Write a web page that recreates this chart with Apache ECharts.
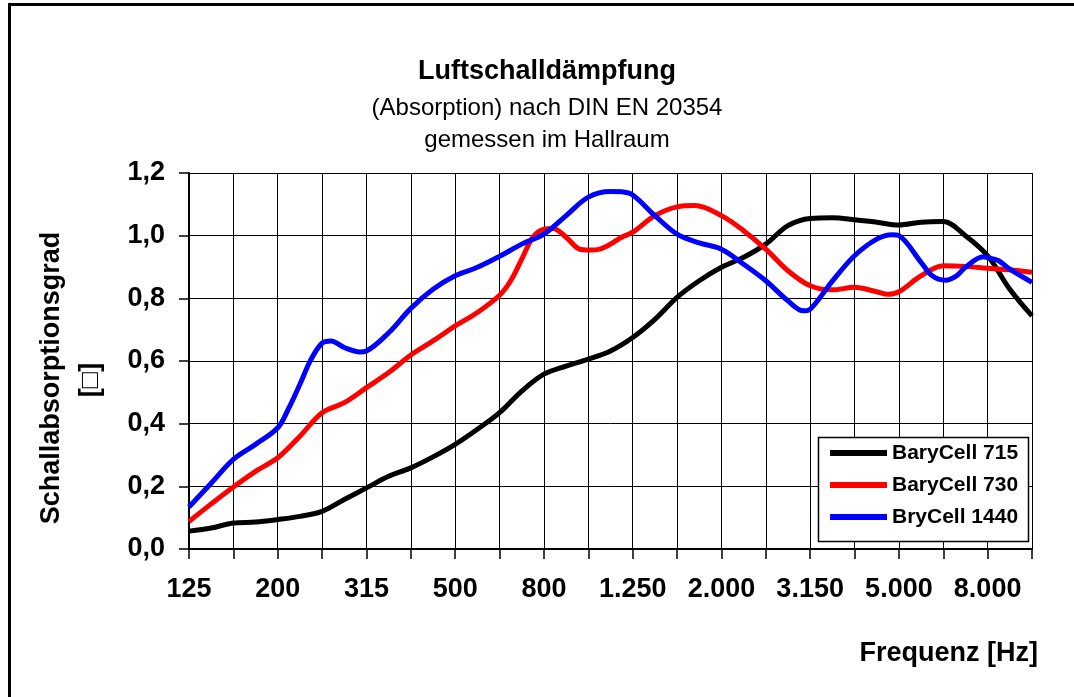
<!DOCTYPE html>
<html lang="de">
<head>
    <meta charset="UTF-8">
    <title>Luftschalldämpfung</title>
    <script src="https://cdn.jsdelivr.net/npm/echarts@6.0.0/dist/echarts.min.js"></script>
    <style>
        html, body { margin: 0; padding: 0; background: #fff; }
        #main { width: 1074px; height: 697px; }
    </style>
</head>
<body>
<div id="main"></div>

<script type="text/javascript">
    // Terzband-Mittenfrequenzen (x = Index im Array)
    var bands = ['125', '160', '200', '250', '315', '400', '500', '630', '800', '1.000',
                 '1.250', '1.600', '2.000', '2.500', '3.150', '4.000', '5.000', '6.300', '8.000', '10.000'];

    // BaryCell 715
    var bc715Pos = [0, 0.5, 1, 1.5, 2, 2.5, 3, 3.5, 4, 4.5, 5, 5.5, 6, 6.5, 7, 7.5, 8, 8.5, 9, 9.5,
                    10, 10.5, 11, 11.5, 12, 12.5, 13, 13.5, 14, 14.5, 15, 15.5, 16, 16.5, 17, 17.5, 18, 18.5, 19];
    var bc715Val = [0.057, 0.067, 0.083, 0.086, 0.094, 0.104, 0.12, 0.158, 0.195, 0.232, 0.259, 0.294, 0.334, 0.382, 0.435, 0.504, 0.558, 0.584, 0.606, 0.632,
                    0.675, 0.733, 0.803, 0.856, 0.899, 0.931, 0.973, 1.032, 1.055, 1.057, 1.051, 1.043, 1.034, 1.043, 1.045, 1.0, 0.936, 0.829, 0.744];

    // BaryCell 730
    var bc730Pos = [0, 0.5, 1, 1.5, 2, 2.5, 3, 3.5, 4, 4.5, 5, 5.5, 6, 6.5, 7,
                    7.25, 7.5, 7.75, 8, 8.2, 8.5, 8.8, 9, 9.25, 9.5, 9.75, 10, 10.5, 11, 11.4,
                    12, 12.5, 13, 13.5, 14, 14.5, 15, 15.5, 15.75, 16, 16.5, 17, 17.5, 18, 18.5, 19];
    var bc730Val = [0.088, 0.144, 0.198, 0.248, 0.291, 0.36, 0.435, 0.467, 0.515, 0.563, 0.619, 0.664, 0.712, 0.755, 0.81,
                    0.856, 0.925, 0.995, 1.021, 1.023, 0.995, 0.957, 0.954, 0.957, 0.973, 0.995, 1.011, 1.064, 1.092, 1.096,
                    1.064, 1.016, 0.957, 0.888, 0.84, 0.827, 0.835, 0.821, 0.813, 0.821, 0.872, 0.904, 0.902, 0.896, 0.891, 0.883];

    // BryCell 1440
    var bc1440Pos = [0, 0.5, 1, 1.5, 2, 2.25, 2.5, 2.75, 3, 3.2, 3.5, 3.85, 4, 4.5, 5, 5.5, 6, 6.5, 7, 7.5,
                     8, 8.5, 9, 9.5, 9.75, 10, 10.5, 11, 11.5, 12, 12.5, 13, 13.5, 13.85, 14, 14.5, 15, 15.5, 15.85, 16,
                     16.5, 16.75, 17.05, 17.3, 17.5, 17.9, 18, 18.25, 18.5, 19];
    var bc1440Val = [0.134, 0.21, 0.286, 0.334, 0.387, 0.45, 0.526, 0.605, 0.657, 0.664, 0.643, 0.629, 0.632, 0.69, 0.768, 0.829, 0.872, 0.899, 0.934, 0.973,
                     1.005, 1.064, 1.123, 1.141, 1.14, 1.13, 1.064, 1.005, 0.977, 0.957, 0.909, 0.856, 0.792, 0.76, 0.765, 0.855, 0.936, 0.989, 1.003, 1.0,
                     0.915, 0.872, 0.858, 0.872, 0.899, 0.933, 0.93, 0.92, 0.893, 0.851];

    var seriesNames = ['BaryCell 715', 'BaryCell 730', 'BryCell 1440'];
    var seriesColors = ['#000000', '#ff0000', '#0000ff'];

    function pairs(pos, val) {
        return pos.map(function (p, i) { return [p, val[i]]; });
    }

    var FONT = '"Liberation Sans", Arial, sans-serif';
    var myChart = echarts.init(document.getElementById('main'));

    var option = {
        animation: false,
        backgroundColor: '#fff',
        textStyle: { fontFamily: FONT, color: '#000' },
        grid: { left: 189, right: 42, top: 173, bottom: 148, containLabel: false },
        xAxis: {
            type: 'value',
            min: 0,
            max: 19,
            interval: 1,
            axisLine: { show: true, onZero: false, lineStyle: { color: '#000', width: 2 } },
            axisTick: { show: true, inside: false, length: 10, lineStyle: { color: '#000', width: 1.5 } },
            splitLine: { show: true, lineStyle: { color: '#000', width: 1 } },
            axisLabel: {
                margin: 27,
                fontFamily: FONT,
                fontSize: 27,
                fontWeight: 'bold',
                color: '#000',
                showMaxLabel: true,
                formatter: function (v) { return (v % 2 === 0) ? bands[v] : ''; }
            }
        },
        yAxis: {
            type: 'value',
            min: 0,
            max: 1.2,
            interval: 0.2,
            axisLine: { show: true, lineStyle: { color: '#000', width: 2 } },
            axisTick: { show: true, inside: false, length: 10, lineStyle: { color: '#000', width: 1.5 } },
            splitLine: { show: true, lineStyle: { color: '#000', width: 1 } },
            axisLabel: {
                margin: 24,
                fontFamily: FONT,
                fontSize: 27,
                fontWeight: 'bold',
                color: '#000',
                formatter: function (v) { return v.toFixed(1).replace('.', ','); }
            }
        },
        legend: {
            orient: 'vertical',
            left: 830,
            top: 442,
            padding: 0,
            itemGap: 10,
            itemWidth: 57,
            itemHeight: 6,
            icon: 'rect',
            data: seriesNames,
            textStyle: { fontFamily: FONT, fontSize: 21, fontWeight: 'bold', color: '#000', lineHeight: 22 }
        },
        series: [
            { name: seriesNames[0], type: 'line', data: pairs(bc715Pos, bc715Val) },
            { name: seriesNames[1], type: 'line', data: pairs(bc730Pos, bc730Val) },
            { name: seriesNames[2], type: 'line', data: pairs(bc1440Pos, bc1440Val) }
        ].map(function (s, i) {
            s.smooth = 0.35;
            s.symbol = 'none';
            s.color = seriesColors[i];
            s.lineStyle = { color: seriesColors[i], width: 5 };
            return s;
        }),
        graphic: [
            // Rahmen
            { type: 'rect', shape: { x: 9.5, y: 4.5, width: 1100, height: 720 }, style: { fill: 'none', stroke: '#000', lineWidth: 3 }, z: 10 },
            // Legendenkasten
            { type: 'rect', shape: { x: 818.5, y: 437.5, width: 210, height: 104 }, style: { fill: '#fff', stroke: '#000', lineWidth: 1.5 }, z: 3 },
            { type: 'text', x: 547, y: 72, style: { text: 'Luftschalldämpfung', font: 'bold 27px ' + FONT, fill: '#000', textAlign: 'center', textVerticalAlign: 'middle' } },
            { type: 'text', x: 547, y: 108, style: { text: '(Absorption) nach DIN EN 20354', font: '24px ' + FONT, fill: '#000', textAlign: 'center', textVerticalAlign: 'middle' } },
            { type: 'text', x: 547, y: 140, style: { text: 'gemessen im Hallraum', font: '24px ' + FONT, fill: '#000', textAlign: 'center', textVerticalAlign: 'middle' } },
            { type: 'text', x: 52, y: 378, rotation: Math.PI / 2, style: { text: 'Schallabsorptionsgrad', font: 'bold 27px ' + FONT, fill: '#000', textAlign: 'center', textVerticalAlign: 'middle' } },
            { type: 'text', x: 91, y: 380, rotation: Math.PI / 2, style: { text: '[□]', font: 'bold 27px ' + FONT, fill: '#000', textAlign: 'center', textVerticalAlign: 'middle' } },
            { type: 'text', x: 1038, y: 654, style: { text: 'Frequenz [Hz]', font: 'bold 27px ' + FONT, fill: '#000', textAlign: 'right', textVerticalAlign: 'middle' } }
        ]
    };

    myChart.setOption(option);
</script>
</body>
</html>
